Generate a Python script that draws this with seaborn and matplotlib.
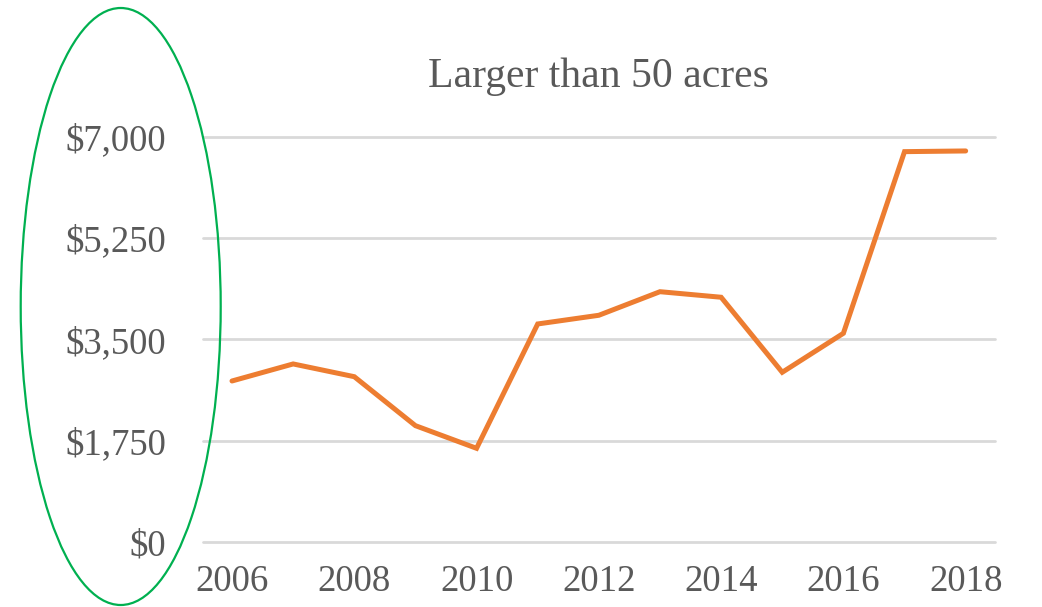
import pandas as pd
import matplotlib.pyplot as plt
import seaborn as sns
from matplotlib.patches import Ellipse
from matplotlib.ticker import FuncFormatter

years = [2006, 2007, 2008, 2009, 2010, 2011, 2012, 2013, 2014, 2015, 2016, 2017, 2018]
values = [2784, 3078, 2858, 2013, 1622, 3768, 3918, 4325, 4229, 2934, 3607, 6742, 6754]
y_ticks = [0, 1750, 3500, 5250, 7000]
x_ticks = [2006, 2008, 2010, 2012, 2014, 2016, 2018]
title = "Larger than 50 acres"

df = pd.DataFrame({"year": years, "value": values})

sns.set_style("white")
plt.rcParams["font.family"] = ["Liberation Serif", "DejaVu Serif"]

text_col = "#595959"

fig = plt.figure(figsize=(10.42, 6.07), dpi=100)
ax = fig.add_axes([0.1945, 0.1066, 0.7604, 0.6682])

sns.lineplot(data=df, x="year", y="value", ax=ax, color="#ED7D31",
             linewidth=3.6, solid_capstyle="round", solid_joinstyle="miter")

ax.set_xlim(2005.52, 2018.48)
ax.set_ylim(0, 7000)
ax.set_yticks(y_ticks)
ax.set_xticks(x_ticks)
ax.yaxis.set_major_formatter(FuncFormatter(lambda v, p: "${:,.0f}".format(v)))
ax.grid(axis="y", color="#d9d9d9", linewidth=2.0)
ax.set_axisbelow(True)
for gl in ax.get_ygridlines():
    gl.set_clip_on(False)
for s in ax.spines.values():
    s.set_visible(False)
ax.tick_params(axis="y", length=0, pad=26, labelsize=26.5, labelcolor=text_col)
ax.tick_params(axis="x", length=0, pad=16, labelsize=26.5, labelcolor=text_col)
ax.set_xlabel("")
ax.set_ylabel("")
ax.set_title(title, fontsize=30, color=text_col, pad=36)

# green ellipse around y axis labels
ell = Ellipse((1.207, (607 - 306.5) / 100), 2.0, 5.97, fill=False,
              edgecolor="#00B050", linewidth=1.6,
              transform=fig.dpi_scale_trans, clip_on=False)
fig.add_artist(ell)

fig.savefig("out.png", dpi=100)
